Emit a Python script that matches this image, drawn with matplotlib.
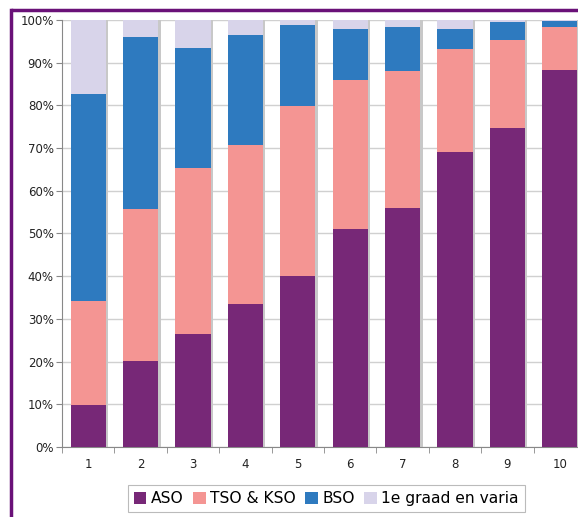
import matplotlib
matplotlib.use("Agg")
import matplotlib.pyplot as plt
from matplotlib.lines import Line2D
import numpy as np

categories = ["1", "2", "3", "4", "5", "6", "7", "8", "9", "10"]
aso = [9.9, 20.2, 26.4, 33.5, 40.1, 51.1, 55.9, 69.0, 74.8, 88.3]
tso_kso = [24.3, 35.5, 38.9, 37.2, 39.8, 34.8, 32.2, 24.3, 20.4, 10.1]
bso = [48.4, 40.3, 28.2, 25.7, 18.9, 12.0, 10.3, 4.7, 4.3, 1.4]
varia = [17.4, 4.0, 6.5, 3.6, 1.2, 2.1, 1.6, 2.0, 0.5, 0.2]

series = [("ASO", aso, "#772877"),
          ("TSO & KSO", tso_kso, "#f49593"),
          ("BSO", bso, "#2e7abf"),
          ("1e graad en varia", varia, "#d8d4ea")]

fig = plt.figure(figsize=(5.78, 5.17), dpi=100)
ax = fig.add_axes([62 / 578, 70 / 517, 524 / 578, 427 / 517])

x = np.arange(1, len(categories) + 1)
totals = np.sum([aso, tso_kso, bso, varia], axis=0)

# soft shadow to the right of each stack
ax.bar(x + 0.045, totals, width=0.67, color="#c8c8c8", zorder=2)

bottom = np.zeros(len(categories))
for name, vals, col in series:
    ax.bar(x, vals, width=0.67, bottom=bottom, color=col, label=name, zorder=3)
    bottom += np.array(vals)

ax.set_xlim(0.5, 10.5)
ax.set_ylim(0, 100)
ax.set_yticks(range(0, 101, 10))
ax.set_yticklabels(["{}%".format(v) for v in range(0, 101, 10)], fontsize=8.5, color="#222222")
ax.set_xticks(x)
ax.set_xticklabels(categories, fontsize=8.5, color="#222222")
ax.set_xticks(np.arange(0.5, 11, 1), minor=True)
ax.tick_params(axis="x", which="major", length=0, pad=8)
ax.tick_params(axis="x", which="minor", length=4, color="#888888")
ax.tick_params(axis="y", length=4, color="#888888", pad=2)
ax.grid(axis="y", color="#d0d0d0", lw=1, zorder=0)
for s in ["top", "right"]:
    ax.spines[s].set_visible(False)
ax.spines["left"].set_color("#888888")
ax.spines["bottom"].set_color("#888888")

leg = fig.legend(loc="lower left", bbox_to_anchor=(120 / 578, -3 / 517), ncol=4,
                 fontsize=11.2, frameon=True, fancybox=False, edgecolor="#aaaaaa",
                 handlelength=0.8, handleheight=0.8, handletextpad=0.3,
                 columnspacing=0.6, borderpad=0.4)
leg.get_frame().set_linewidth(0.8)

# purple frame (left and top edges visible)
border = "#6a1178"
fig.lines.append(Line2D([11 / 578, 11 / 578], [-0.1, 1 - 10 / 517], transform=fig.transFigure,
                        color=border, lw=2.5, solid_capstyle="projecting"))
fig.lines.append(Line2D([11 / 578, 1.1], [1 - 10 / 517, 1 - 10 / 517], transform=fig.transFigure,
                        color=border, lw=2.5, solid_capstyle="butt"))

fig.savefig("out.png", dpi=100)
